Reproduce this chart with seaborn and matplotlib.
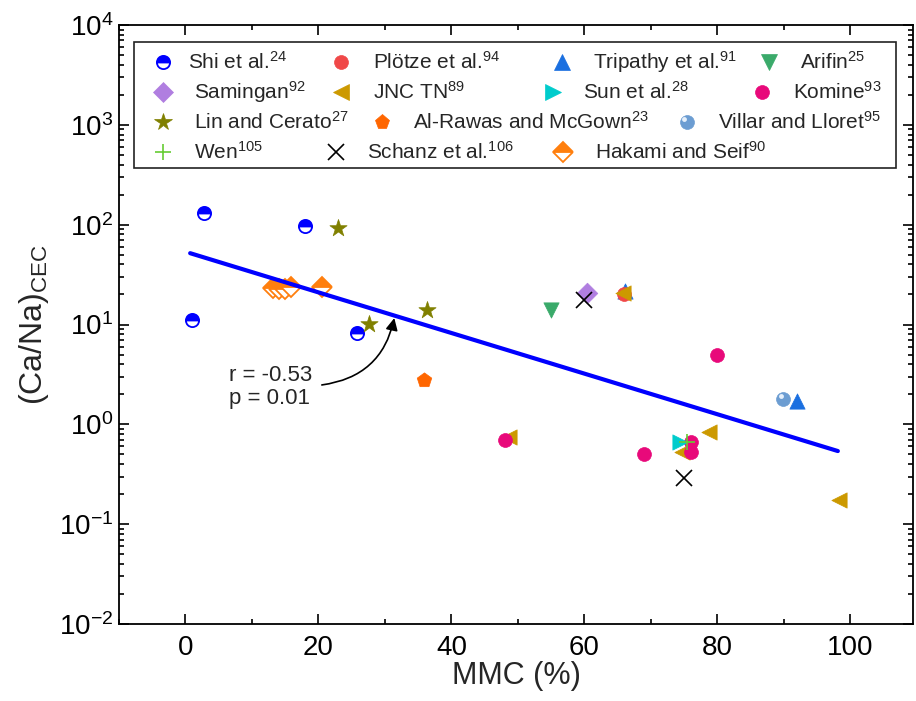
import numpy as np
import pandas as pd
import matplotlib
matplotlib.use("Agg")
import matplotlib.pyplot as plt
import matplotlib.ticker as mticker
import matplotlib.transforms as mtrans
from matplotlib.patches import Rectangle
import seaborn as sns

# ---------------- data ----------------
shi_x = [1.0, 2.75, 18.0, 25.8]
shi_y = [11.2, 130, 97, 8.2]
plotze_x = [66.0]
plotze_y = [20.0]
tripathy_x = [66.1, 92.0]
tripathy_y = [21.5, 1.70]
arifin_x = [54.9]
arifin_y = [14.0]
samingan_x = [60.4]
samingan_y = [20.8]
jnc_x = [48.6, 65.8, 74.7, 78.7, 98.2]
jnc_y = [0.75, 20.5, 0.53, 0.84, 0.175]
sun_x = [74.3]
sun_y = [0.66]
komine_x = [48.0, 68.9, 76.0, 76.0, 80.0]
komine_y = [0.70, 0.51, 0.67, 0.53, 4.9]
lin_x = [23.0, 27.6, 36.3]
lin_y = [92, 10.2, 14.0]
alrawas_x = [35.9]
alrawas_y = [2.8]
villar_x = [89.9]
villar_y = [1.80]
wen_x = [75.4]
wen_y = [0.67]
schanz_x = [59.9, 75.0]
schanz_y = [17.5, 0.29]
hakami_x = [13.1, 14.0, 14.9, 15.8, 20.6]
hakami_y = [23.0, 22.5, 22.5, 23.5, 23.5]

fit_x = [0.7, 98.1]
fit_y = [51.8, 0.54]

x_ticks = [0, 20, 40, 60, 80, 100]
y_ticks = [1e-2, 1e-1, 1e0, 1e1, 1e2, 1e3, 1e4]

stat_text = "r = -0.53\np = 0.01"

labels = {
    "shi": "Shi et al.$^{24}$",
    "plotze": "Plötze et al.$^{94}$",
    "tripathy": "Tripathy et al.$^{91}$",
    "arifin": "Arifin$^{25}$",
    "samingan": "Samingan$^{92}$",
    "jnc": "JNC TN$^{89}$",
    "sun": "Sun et al.$^{28}$",
    "komine": "Komine$^{93}$",
    "lin": "Lin and Cerato$^{27}$",
    "alrawas": "Al-Rawas and McGown$^{23}$",
    "villar": "Villar and Lloret$^{95}$",
    "wen": "Wen$^{105}$",
    "schanz": "Schanz et al.$^{106}$",
    "hakami": "Hakami and Seif$^{90}$",
}

series = {
    "shi": (shi_x, shi_y), "plotze": (plotze_x, plotze_y),
    "tripathy": (tripathy_x, tripathy_y), "arifin": (arifin_x, arifin_y),
    "samingan": (samingan_x, samingan_y), "jnc": (jnc_x, jnc_y),
    "sun": (sun_x, sun_y), "komine": (komine_x, komine_y),
    "lin": (lin_x, lin_y), "alrawas": (alrawas_x, alrawas_y),
    "villar": (villar_x, villar_y), "wen": (wen_x, wen_y),
    "schanz": (schanz_x, schanz_y), "hakami": (hakami_x, hakami_y),
}

# ---------------- styles ----------------
styles = {
    "shi": dict(marker="o", ms=9.5, color="#0000ff", half=True),
    "plotze": dict(marker="o", ms=10, color="#f04848"),
    "tripathy": dict(marker="^", ms=11, color="#1a6fe0"),
    "arifin": dict(marker="v", ms=11, color="#3aaa6a"),
    "samingan": dict(marker="D", ms=10.5, color="#b07ee0"),
    "jnc": dict(marker="<", ms=11, color="#cc9900"),
    "sun": dict(marker=">", ms=11, color="#00cccc"),
    "komine": dict(marker="o", ms=10, color="#e8097a"),
    "lin": dict(marker="*", ms=13, color="#808000"),
    "alrawas": dict(marker="p", ms=11, color="#ff6600"),
    "villar": dict(marker="o", ms=10, color="#6c9dd2"),
    "wen": dict(marker="+", ms=11, color="#66cc33", line=True),
    "schanz": dict(marker="x", ms=11, color="#000000", line=True),
    "hakami": dict(marker="D", ms=10.5, color="#ff7f0e", half=True),
}

sns.set_style("ticks")
plt.rcParams["font.family"] = ["Liberation Sans", "DejaVu Sans"]
plt.rcParams["mathtext.fontset"] = "custom"
plt.rcParams["mathtext.rm"] = "Liberation Sans"
plt.rcParams["mathtext.it"] = "Liberation Sans:italic"
plt.rcParams["mathtext.default"] = "regular"

W, H = 916, 701
fig = plt.figure(figsize=(W / 100, H / 100), dpi=100)
ax = fig.add_axes([119 / W, 1 - 624 / H, (913 - 119) / W, (624 - 25) / H])


def draw_series(axis, key, x, y):
    st = styles[key]
    df = pd.DataFrame({"x": x, "y": y})
    if st.get("half"):
        sns.lineplot(data=df, x="x", y="y", ax=axis, estimator=None, sort=False,
                     linestyle="", marker=st["marker"], markersize=st["ms"],
                     fillstyle="top", color=st["color"],
                     markerfacecolor=st["color"], markerfacecoloralt="white",
                     markeredgecolor=st["color"], markeredgewidth=1.3,
                     zorder=3)
    elif st.get("line"):
        sns.lineplot(data=df, x="x", y="y", ax=axis, estimator=None, sort=False,
                     linestyle="", marker=st["marker"], markersize=st["ms"],
                     color=st["color"], markeredgecolor=st["color"],
                     markeredgewidth=1.2, zorder=3)
    else:
        sns.scatterplot(data=df, x="x", y="y", ax=axis, marker=st["marker"],
                        s=st["ms"] ** 2, color=st["color"],
                        edgecolor=st["color"], linewidth=0.5, zorder=3,
                        legend=False)


order = ["hakami", "shi", "lin", "alrawas", "arifin", "samingan", "schanz",
         "tripathy", "plotze", "jnc", "komine", "sun", "wen", "villar"]
for key in order:
    x, y = series[key]
    draw_series(ax, key, x, y)

# highlight on the sphere marker
hl = mtrans.offset_copy(ax.transData, fig=fig, x=-2.5, y=2.5, units="dots")
ax.plot(villar_x, villar_y, linestyle="", marker="o", markersize=3.5,
        color="#e6f0fb", markeredgewidth=0, transform=hl, zorder=4)

# regression line
sns.lineplot(x=fit_x, y=fit_y, ax=ax, color="#0000ff", linewidth=3.0,
             estimator=None, sort=False, zorder=5)

# annotation
ax.text(6.6, 2.37, stat_text, fontsize=16, ha="left", va="center",
        linespacing=1.15)
ax.annotate("", xy=(31.4, 11.6), xytext=(20.5, 2.48),
            arrowprops=dict(arrowstyle="-|>", connectionstyle="arc3,rad=0.35",
                            color="black", lw=1.2, mutation_scale=18,
                            shrinkA=0, shrinkB=0), zorder=6)

ax.set_yscale("log")
ax.set_xlim(-10, 109.4)
ax.set_ylim(1e-2, 1e4)
ax.xaxis.set_major_locator(mticker.FixedLocator(x_ticks))
ax.xaxis.set_minor_locator(mticker.FixedLocator([-10 + 20 * i for i in range(7)]))
ax.yaxis.set_major_locator(mticker.FixedLocator(y_ticks))
ax.yaxis.set_major_formatter(mticker.LogFormatterSciNotation())
ax.yaxis.set_minor_locator(mticker.LogLocator(base=10, subs=np.arange(2, 10), numticks=40))
ax.yaxis.set_minor_formatter(mticker.NullFormatter())
ax.tick_params(which="both", direction="in", top=True, right=True,
               width=1.2, colors="black", labelsize=20)
ax.tick_params(which="major", length=7)
ax.tick_params(which="minor", length=3.5)
ax.tick_params(axis="x", pad=8)
ax.tick_params(axis="y", pad=4)
for s in ax.spines.values():
    s.set_linewidth(1.3)
    s.set_color("black")

ax.set_xlabel("MMC (%)", fontsize=22, labelpad=0)
ax.set_ylabel("(Ca/Na)$_{CEC}$", fontsize=23, labelpad=6)

# ---------------- legend (Origin-style flowing layout, pixel coords) ----------------
px = mtrans.Affine2D().scale(1 / W, -1 / H).translate(0, 1) + fig.transFigure
leg_rows = [61.7, 91.7, 121.7, 151.7]
leg_layout = [
    ("shi", 0, 163.3, 188.3), ("plotze", 0, 340.7, 372.7),
    ("tripathy", 0, 561.7, 593.3), ("arifin", 0, 769.3, 800.0),
    ("samingan", 1, 163.3, 194.0), ("jnc", 1, 340.7, 373.3),
    ("sun", 1, 553.3, 583.3), ("komine", 1, 762.3, 793.3),
    ("lin", 2, 163.3, 194.0), ("alrawas", 2, 381.7, 413.3),
    ("villar", 2, 686.7, 718.3),
    ("wen", 3, 163.3, 194.0), ("schanz", 3, 335.7, 367.3),
    ("hakami", 3, 563.3, 595.0),
]
ax.add_patch(Rectangle((134.3, 42.3), 896 - 134.3, 168.3 - 42.3, fill=True,
                       facecolor="white", edgecolor="#222222", lw=1.2,
                       transform=px, clip_on=False, zorder=10))
for key, r, mx, tx in leg_layout:
    yy = leg_rows[r]
    st = styles[key]
    common = dict(linestyle="", marker=st["marker"], markersize=st["ms"],
                  transform=px, clip_on=False, zorder=11)
    if st.get("half"):
        ax.plot([mx], [yy], fillstyle="top", markerfacecolor=st["color"],
                markerfacecoloralt="white", markeredgecolor=st["color"],
                markeredgewidth=1.3, **common)
    elif st.get("line"):
        ax.plot([mx], [yy], color=st["color"], markeredgewidth=1.2, **common)
    else:
        ax.plot([mx], [yy], color=st["color"], markeredgecolor=st["color"],
                markeredgewidth=0.5, **common)
    if key == "villar":
        ax.plot([mx - 2.5], [yy - 2.5], linestyle="", marker="o", markersize=3.5,
                color="#e6f0fb", markeredgewidth=0, transform=px,
                clip_on=False, zorder=12)
    ax.text(tx, yy + 7.2, labels[key], fontsize=15, ha="left", va="baseline",
            transform=px, zorder=12)

fig.savefig("out.png", dpi=100)
